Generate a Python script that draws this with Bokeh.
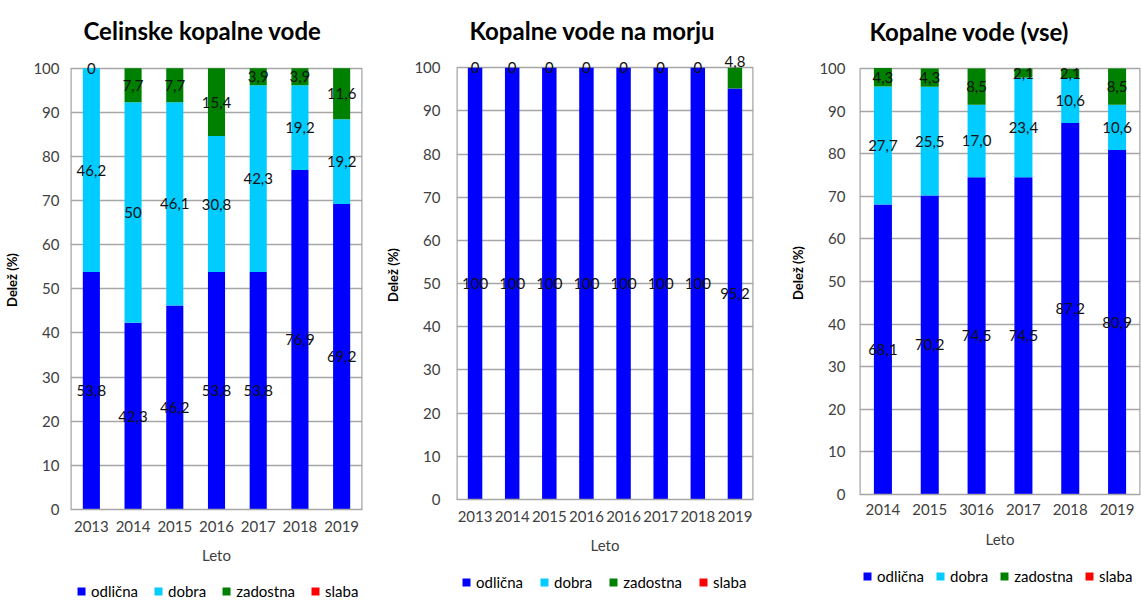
from bokeh.plotting import figure
from bokeh.layouts import row, column
from bokeh.models import ColumnDataSource, Legend, LegendItem, FixedTicker, Range1d, LabelSet
from bokeh.embed import file_html
from bokeh.resources import INLINE
from bokeh.core.properties import value

SERIES = ["odlična", "dobra", "zadostna", "slaba"]
COLORS = ["#0000ff", "#00ccff", "#008000", "#ff0000"]

# Panel 1: Celinske kopalne vode
title1 = "Celinske kopalne vode"
years1 = ["2013", "2014", "2015", "2016", "2017", "2018", "2019"]
odl1 = [53.8, 42.3, 46.2, 53.8, 53.8, 76.9, 69.2]
dob1 = [46.2, 50.0, 46.1, 30.8, 42.3, 19.2, 19.2]
zad1 = [0.0, 7.7, 7.7, 15.4, 3.9, 3.9, 11.6]
sla1 = [0, 0, 0, 0, 0, 0, 0]
lab_odl1 = ["53,8", "42,3", "46,2", "53,8", "53,8", "76,9", "69,2"]
lab_dob1 = ["46,2", "50", "46,1", "30,8", "42,3", "19,2", "19,2"]
lab_zad1 = ["0", "7,7", "7,7", "15,4", "3,9", "3,9", "11,6"]

# Panel 2: Kopalne vode na morju
title2 = "Kopalne vode na morju"
years2 = ["2013", "2014", "2015", "2016", "2016", "2017", "2018", "2019"]
odl2 = [100, 100, 100, 100, 100, 100, 100, 95.2]
dob2 = [0, 0, 0, 0, 0, 0, 0, 0]
zad2 = [0, 0, 0, 0, 0, 0, 0, 4.8]
sla2 = [0, 0, 0, 0, 0, 0, 0, 0]
lab_odl2 = ["100", "100", "100", "100", "100", "100", "100", "95,2"]
lab_dob2 = ["", "", "", "", "", "", "", ""]
lab_zad2 = ["0", "0", "0", "0", "0", "0", "0", "4,8"]

# Panel 3: Kopalne vode (vse)
title3 = "Kopalne vode (vse)"
years3 = ["2014", "2015", "3016", "2017", "2018", "2019"]
odl3 = [68.1, 70.2, 74.5, 74.5, 87.2, 80.9]
dob3 = [27.7, 25.5, 17.0, 23.4, 10.6, 10.6]
zad3 = [4.3, 4.3, 8.5, 2.1, 2.1, 8.5]
sla3 = [0, 0, 0, 0, 0, 0]
lab_odl3 = ["68,1", "70,2", "74,5", "74,5", "87,2", "80,9"]
lab_dob3 = ["27,7", "25,5", "17,0", "23,4", "10,6", "10,6"]
lab_zad3 = ["4,3", "4,3", "8,5", "2,1", "2,1", "8,5"]

FONT = "Lato"
AXIS_GRAY = "#a6a6a6"
TEXT_GRAY = "#404040"
Y_MAX = 100
Y_HEADROOM = 104  # room above the 100 line so the top data labels are not clipped


def make_panel(title, years, vals, labels, width, height, bl, br, bt, bb,
               bar_w, tick_standoff, xtick_standoff, xlab_standoff, title_standoff,
               title_offset, leg_height, leg_x, leg_y, leg_spacing, nudges=None):
    n = len(years)
    x = list(range(n))
    data = {"x": x}
    for s, v in zip(SERIES, vals):
        data[s] = v
    src = ColumnDataSource(data)

    p = figure(width=width, height=height, output_backend="svg", toolbar_location=None,
               x_range=Range1d(-0.5, n - 0.5), y_range=Range1d(0, Y_HEADROOM),
               min_border_left=bl, min_border_right=br, min_border_top=bt,
               min_border_bottom=bb, tools="")
    p.title.text = title
    p.title.text_font = FONT
    p.title.text_font_size = "24px"
    p.title.text_font_style = "bold"
    p.title.text_color = "#000000"
    p.title.align = "left"
    p.title.offset = title_offset
    p.title.standoff = title_standoff

    # plot-area frame: left and right borders up to 100 (top line is the 100 gridline)
    p.segment(x0=[-0.5, n - 0.5], y0=[0, 0], x1=[-0.5, n - 0.5], y1=[Y_MAX, Y_MAX],
              line_color=AXIS_GRAY, line_width=2.5)

    p.vbar_stack(SERIES, x="x", width=bar_w, color=COLORS, source=src, line_width=0)

    # data labels centered in segments
    lx, ly, lt, loff = [], [], [], []
    bottoms = [0.0] * n
    for si, v in enumerate(vals):
        labs = labels[si] if si < len(labels) else None
        for i in range(n):
            if labs is not None and labs[i] != "":
                lx.append(x[i])
                ly.append(bottoms[i] + v[i] / 2.0)
                lt.append(labs[i])
                loff.append((nudges or {}).get((si, i), 0))
            bottoms[i] += v[i]
    lsrc = ColumnDataSource(dict(x=lx, y=ly, t=lt, off=loff))
    ls = LabelSet(x="x", y="y", text="t", source=lsrc, text_align="center",
                  text_baseline="middle", text_font=value(FONT), text_font_size="15px",
                  text_color="#111111", y_offset="off")
    p.add_layout(ls)

    p.xaxis.ticker = FixedTicker(ticks=x)
    p.xaxis.major_label_overrides = {i: y for i, y in enumerate(years)}
    p.yaxis.ticker = FixedTicker(ticks=list(range(0, Y_MAX + 1, 10)))
    for ax in (p.xaxis, p.yaxis):
        ax.major_tick_line_color = None
        ax.minor_tick_line_color = None
        ax.major_tick_out = 0
        ax.major_tick_in = 0
        ax.minor_tick_out = 0
        ax.minor_tick_in = 0
        ax.major_label_text_font = FONT
        ax.major_label_text_font_size = "15px"
        ax.major_label_text_color = TEXT_GRAY
    p.xaxis.axis_line_color = AXIS_GRAY
    p.xaxis.axis_line_width = 1.5
    p.yaxis.axis_line_color = None
    p.yaxis.major_label_standoff = tick_standoff
    p.xaxis.major_label_standoff = xtick_standoff
    p.xaxis.axis_label = "Leto"
    p.xaxis.axis_label_text_font = FONT
    p.xaxis.axis_label_text_font_size = "15px"
    p.xaxis.axis_label_text_font_style = "normal"
    p.xaxis.axis_label_text_color = TEXT_GRAY
    p.xaxis.axis_label_standoff = xlab_standoff
    p.yaxis.axis_label = "Delež (%)"
    p.yaxis.axis_label_text_font = FONT
    p.yaxis.axis_label_text_font_size = "13px"
    p.yaxis.axis_label_text_font_style = "bold"
    p.yaxis.axis_label_text_color = "#000000"
    p.yaxis.axis_label_standoff = 10

    p.xgrid.grid_line_color = None
    p.ygrid.grid_line_color = AXIS_GRAY
    p.ygrid.grid_line_width = 1.5
    p.outline_line_color = None
    p.background_fill_color = "white"
    p.border_fill_color = "white"

    # legend in its own strip below the chart (dummy swatches kept out of view)
    lf = figure(width=width, height=leg_height, output_backend="svg", toolbar_location=None,
                x_range=Range1d(0, 1), y_range=Range1d(0, 1), tools="",
                min_border_left=0, min_border_right=0, min_border_top=0, min_border_bottom=0)
    lf.axis.visible = False
    lf.grid.grid_line_color = None
    lf.outline_line_color = None
    items = []
    for s, c in zip(SERIES, COLORS):
        dummy = ColumnDataSource(dict(x=[0.5], top=[-2], bottom=[-3]))
        r = lf.vbar(x="x", top="top", bottom="bottom", width=0.1, fill_color=c,
                    line_color=None, source=dummy)
        items.append(LegendItem(label=s, renderers=[r]))
    leg = Legend(items=items, orientation="horizontal", location=(leg_x, leg_y),
                 glyph_width=10, glyph_height=10, label_standoff=5, spacing=leg_spacing,
                 padding=0, margin=0, label_height=16,
                 label_text_font=FONT, label_text_font_size="15px",
                 label_text_color="#000000", background_fill_alpha=0,
                 border_line_color=None)
    lf.add_layout(leg, "center")
    return column(p, lf, spacing=0)


c1 = make_panel(title1, years1, [odl1, dob1, zad1, sla1], [lab_odl1, lab_dob1, lab_zad1],
                width=380, height=572, bl=70, br=18, bt=50, bb=63, bar_w=0.41,
                tick_standoff=11, xtick_standoff=11, xlab_standoff=11, title_standoff=12,
                title_offset=13, leg_height=28, leg_x=6, leg_y=0, leg_spacing=15)
c2 = make_panel(title2, years2, [odl2, dob2, zad2, sla2], [lab_odl2, lab_dob2, lab_zad2],
                width=397, height=570, bl=76, br=24, bt=50, bb=71, bar_w=0.39,
                tick_standoff=16, xtick_standoff=11, xlab_standoff=11, title_standoff=12,
                title_offset=13, leg_height=30, leg_x=5, leg_y=9, leg_spacing=16,
                nudges={(2, 7): 17})
c3 = make_panel(title3, years3, [odl3, dob3, zad3, sla3], [lab_odl3, lab_dob3, lab_zad3],
                width=364, height=562, bl=82, br=1, bt=51, bb=68, bar_w=0.385,
                tick_standoff=14, xtick_standoff=9, xlab_standoff=12, title_standoff=12,
                title_offset=10, leg_height=38, leg_x=3, leg_y=15, leg_spacing=11)

layout = row(c1, c2, c3, spacing=0)
open("out.html", "w").write(file_html(layout, INLINE))
